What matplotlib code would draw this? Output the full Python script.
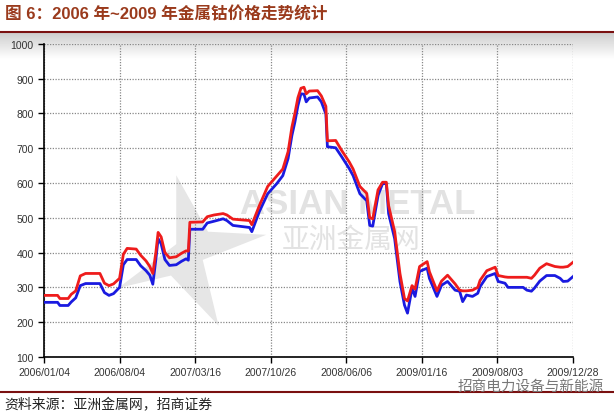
import numpy as np
import matplotlib
matplotlib.use("Agg")
import matplotlib.pyplot as plt
from matplotlib.patches import Polygon

plt.rcParams['font.family'] = ['Liberation Sans', 'Noto Sans CJK SC', 'DejaVu Sans']

# positions along the category axis (one unit per tick label)
pos = [0.00, 0.18, 0.21, 0.32, 0.36, 0.42, 0.48, 0.55, 0.74, 0.80, 0.86, 0.92,
       1.00, 1.05, 1.10, 1.22, 1.28, 1.35, 1.40, 1.44, 1.48, 1.51, 1.55, 1.60,
       1.66, 1.75, 1.82, 1.88, 1.91, 1.93, 2.10, 2.16, 2.25, 2.37, 2.42, 2.50,
       2.72, 2.75, 2.85, 2.96, 3.08, 3.16, 3.23, 3.28, 3.32, 3.36, 3.40, 3.44,
       3.47, 3.51, 3.62, 3.67, 3.73, 3.75, 3.86, 3.94, 4.04, 4.09, 4.18, 4.27,
       4.31, 4.35, 4.42, 4.48, 4.53, 4.56, 4.64, 4.71, 4.77, 4.81, 4.87, 4.91,
       4.97, 5.07, 5.10, 5.20, 5.26, 5.34, 5.44, 5.50, 5.54, 5.59, 5.67, 5.74,
       5.77, 5.86, 5.97, 6.01, 6.10, 6.14, 6.34, 6.39, 6.45, 6.49, 6.56, 6.65,
       6.76, 6.83, 6.87, 6.93, 7.00]

low = [257, 257, 248, 248, 258, 270, 305, 311, 311, 285, 277, 282,
       300, 365, 380, 380, 362, 348, 335, 309, 380, 440, 425, 380,
       363, 365, 375, 382, 378, 467, 467, 485, 490, 497, 492, 478,
       472, 460, 518, 569, 598, 621, 670, 736, 775, 822, 856, 855,
       833, 844, 847, 833, 798, 704, 701, 675, 641, 621, 569, 549,
       478, 476, 564, 598, 598, 512, 440, 317, 249, 226, 297, 274,
       346, 355, 326, 274, 306, 317, 292, 289, 259, 278, 274, 283,
       302, 331, 340, 317, 312, 300, 300, 292, 289, 298, 318, 334,
       334, 326, 317, 318, 331]

high = [277, 277, 268, 268, 280, 290, 333, 340, 340, 312, 305, 310,
        326, 395, 412, 410, 392, 376, 360, 340, 400, 458, 445, 400,
        385, 388, 398, 405, 404, 487, 488, 503, 508, 512, 508, 496,
        492, 480, 535, 590, 620, 640, 690, 760, 800, 845, 872, 875,
        856, 864, 865, 850, 820, 721, 722, 693, 660, 640, 590, 570,
        500, 497, 580, 602, 602, 535, 460, 340, 268, 261, 305, 295,
        360, 374, 345, 290, 318, 335, 310, 292, 290, 290, 292, 300,
        320, 348, 358, 334, 330, 329, 329, 329, 326, 335, 355, 368,
        360, 358, 358, 360, 372]

date_labels = ["2006/01/04", "2006/08/04", "2007/03/16", "2007/10/26",
               "2008/06/06", "2009/01/16", "2009/08/03", "2009/12/28"]

fig = plt.figure(figsize=(6.14, 4.14), dpi=100)

# grey band under the title rule
grad = fig.add_axes([0, (414 - 60) / 414, 1, 27 / 414], zorder=0)
grad.imshow(np.linspace(0.80, 1.0, 64).reshape(-1, 1), cmap='gray', vmin=0, vmax=1,
            aspect='auto', extent=[0, 1, 0, 1])
grad.axis('off')

ax = fig.add_axes([44 / 614, (414 - 358) / 414, (573 - 44) / 614, (358 - 44.7) / 414], zorder=1)
ax.set_facecolor('none')

# watermark
star = Polygon([(0.14, 0.22), (0.25, 0.36), (0.25, 0.58), (0.31, 0.40), (0.42, 0.39),
                (0.30, 0.31), (0.33, 0.10), (0.24, 0.26)], closed=True,
               transform=ax.transAxes, color='#e6e6e6', zorder=0, lw=0)
ax.add_patch(star)
ax.text(0.37, 0.49, "ASIAN METAL", transform=ax.transAxes, fontsize=25, fontweight='bold',
        color='#e2e2e2', zorder=0, va='center')
ax.text(0.45, 0.375, "亚洲金属网", transform=ax.transAxes, fontsize=20,
        color='#e2e2e2', zorder=0, va='center')

ax.plot(pos, low, color='#1a1ae0', lw=2, zorder=3)
ax.plot(pos, high, color='#ee1c1c', lw=2, zorder=4)

ax.set_xlim(0, 7)
ax.set_ylim(100, 1000)
ax.set_yticks(range(100, 1001, 100))
ax.set_xticks(range(len(date_labels)))
ax.set_xticklabels(date_labels)
ax.tick_params(axis='both', labelsize=7.5, colors='#333333', length=4, width=1)
ax.tick_params(axis='both', color='black')
ax.grid(True, color='#888888', linestyle=(0, (1, 1.2)), lw=0.9)
for side in ['top', 'right']:
    ax.spines[side].set_visible(False)
for side in ['left', 'bottom']:
    ax.spines[side].set_linewidth(1.2)

fig.text(5 / 614, 1 - 14 / 414, "图 6：2006 年~2009 年金属钴价格走势统计", fontsize=12,
         fontweight='bold', color='#9a3a1c', va='center', ha='left')
fig.add_artist(plt.Line2D([0, 1], [1 - 33 / 414, 1 - 33 / 414], color='#7a1010', lw=1.5))
fig.add_artist(plt.Line2D([0, 1], [1 - 393 / 414, 1 - 393 / 414], color='#7a1010', lw=1.5))
fig.text(458 / 614, 1 - 387 / 414, "招商电力设备与新能源", fontsize=10.5, color='#777777',
         va='center', ha='left')
fig.text(4 / 614, 1 - 405 / 414, "资料来源：亚洲金属网，招商证券", fontsize=10,
         color='#222222', va='center', ha='left')

fig.savefig("out.png", dpi=100)
